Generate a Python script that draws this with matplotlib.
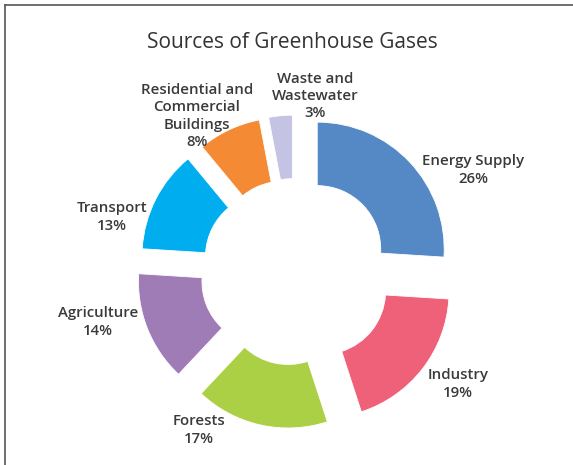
import matplotlib
matplotlib.use('Agg')
import matplotlib.pyplot as plt
from matplotlib.lines import Line2D

# ---- data ----
categories = ["Energy Supply", "Industry", "Forests", "Agriculture", "Transport",
              "Residential and\nCommercial\nBuildings", "Waste and\nWastewater"]
values = [26, 19, 17, 14, 13, 8, 3]
title = "Sources of Greenhouse Gases"

# ---- styles ----
colors = ["#5589C5", "#EF6079", "#ABCF45", "#A07CB7", "#00AEEF", "#F58A35", "#C5C3E3"]
explode = [0.24, 0.27, 0.25, 0.25, 0.23, 0.22, 0.22]
label_px = [(473, 170), (458, 384), (199, 430), (98, 322), (112, 217), (197, 116), (315, 96)]

W, H = 573, 465
cx, cy, R = 295, 270, 127

fig = plt.figure(figsize=(W / 100, H / 100), dpi=100)
fig.patch.set_facecolor('white')
ax = fig.add_axes([0, 0, 1, 1])
ax.pie(values, colors=colors, startangle=90, counterclock=False, explode=explode,
       radius=1, wedgeprops=dict(width=0.5, edgecolor='white', linewidth=0.6))
ax.set_xlim(-cx / R, (W - cx) / R)
ax.set_ylim((cy - H) / R, cy / R)
ax.set_aspect('auto')
ax.axis('off')

for cat, val, (px, py) in zip(categories, values, label_px):
    ax.text((px - cx) / R, (cy - py) / R, f"{cat}\n{val}%", ha='center', va='center',
            fontsize=10.8, color='#3a3a3a', linespacing=1.28,
            family=['Open Sans', 'DejaVu Sans'], fontweight='semibold')

fig.text(292 / W, 1 - 42 / H, title, ha='center', va='center', fontsize=15,
         color='#333333', family=['Open Sans', 'DejaVu Sans'])

fig.add_artist(Line2D([5 / W, 5 / W], [0, 1 - 5 / H], transform=fig.transFigure,
                      color='#555555', lw=1.2))
fig.add_artist(Line2D([5 / W, 1], [1 - 5 / H, 1 - 5 / H], transform=fig.transFigure,
                      color='#555555', lw=1.2))

fig.savefig('out.png', dpi=100, facecolor='white')
